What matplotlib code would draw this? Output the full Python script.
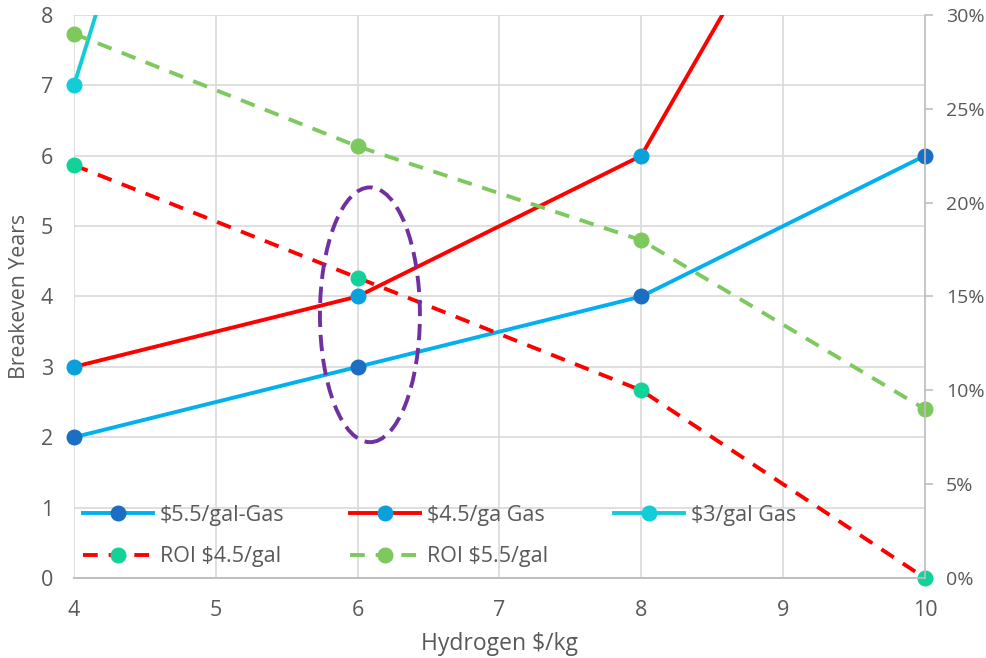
import matplotlib.pyplot as plt
import numpy as np
from matplotlib.patches import Ellipse, Rectangle
from matplotlib.ticker import PercentFormatter

plt.rcParams['font.family'] = ['Open Sans', 'DejaVu Sans']

hydrogen = [4, 6, 8, 10]
gas_55 = [2, 3, 4, 6]
gas_45 = [3, 4, 6, 13]
gas_3 = [7, 20, np.nan, np.nan]
roi_45 = [0.22, 0.16, 0.10, 0.0]
roi_55 = [0.29, 0.23, 0.18, 0.09]

grey = '#595959'

fig = plt.figure(figsize=(9.86, 6.58), dpi=100)
ax = fig.add_axes([0.075, 0.1216, 0.863, 0.8556])
ax2 = ax.twinx()

l1, = ax.plot(hydrogen, gas_55, color='#00B0F0', lw=2.8, marker='o', ms=10.5,
              mfc='#1B6EC2', mec='#1B6EC2', label='$5.5/gal-Gas')
l2, = ax.plot(hydrogen, gas_45, color='#FF0000', lw=2.8, marker='o', ms=10.5,
              mfc='#0AA0DC', mec='#0AA0DC', label='$4.5/ga Gas')
l3, = ax.plot(hydrogen, gas_3, color='#12CDD8', lw=2.8, marker='o', ms=10.5,
              mfc='#12CDD8', mec='#12CDD8', label='$3/gal Gas')

l4, = ax2.plot(hydrogen, roi_45, color='#FF0000', lw=2.8, dashes=(3.8, 2.8), marker='o', ms=10.5,
               mfc='#12D29A', mec='#12D29A', label='ROI $4.5/gal')
l5, = ax2.plot(hydrogen, roi_55, color='#7DC95E', lw=2.8, dashes=(3.8, 2.8), marker='o', ms=10.5,
               mfc='#7DC95E', mec='#7DC95E', label='ROI $5.5/gal')

# clip only at the top so end markers stay whole
for line, a in ((l1, ax), (l2, ax), (l3, ax), (l4, ax2), (l5, ax2)):
    line.set_clip_path(Rectangle((-0.05, -0.05), 1.1, 1.05, transform=a.transAxes))

ax.set_xlim(4, 10)
ax.set_ylim(0, 8)
ax2.set_ylim(0, 0.30)
ax.set_xticks(range(4, 11))
ax.set_yticks(range(0, 9))
ax2.set_yticks(np.arange(0, 0.31, 0.05))
ax2.yaxis.set_major_formatter(PercentFormatter(1.0, decimals=0))

ax.grid(True, color='#D9D9D9', lw=1.2)
ax.set_axisbelow(True)
for a in (ax, ax2):
    for s in ('top', 'left'):
        a.spines[s].set_visible(False)
    a.spines['bottom'].set_color('#BFBFBF')
    a.spines['right'].set_color('#BFBFBF')
    a.spines['bottom'].set_linewidth(1.2)
    a.spines['right'].set_linewidth(1.2)
ax.spines['right'].set_visible(False)

ax.tick_params(axis='x', length=0, pad=16, labelsize=15.5, labelcolor=grey)
ax.tick_params(axis='y', length=0, pad=15, labelsize=15.5, labelcolor=grey)
ax2.tick_params(axis='y', length=6, width=1.2, color='#BFBFBF', pad=9,
                labelsize=14, labelcolor=grey)

ax.set_xlabel('Hydrogen $/kg', fontsize=16.5, color=grey, labelpad=8)
ax.set_ylabel('Breakeven Years', fontsize=15.3, color=grey, labelpad=8)

# highlight ring round the $6/kg point
ring = Ellipse((6.087, 3.74), 0.705, 3.62, transform=ax.transData, fill=False,
               edgecolor='#7030A0', lw=2.8, linestyle=(0, (4.2, 2.0)), zorder=5)
ax2.add_patch(ring)

ax2.legend([l1, l4, l2, l5, l3], [h.get_label() for h in (l1, l4, l2, l5, l3)],
           ncol=3, loc='lower left', bbox_to_anchor=(0.0, 0.004), frameon=False,
           fontsize=15.5, labelcolor=grey, handlelength=3.25, handletextpad=0.33,
           columnspacing=3.05, labelspacing=0.95, borderaxespad=0.0)

fig.savefig('out.png', dpi=100)
